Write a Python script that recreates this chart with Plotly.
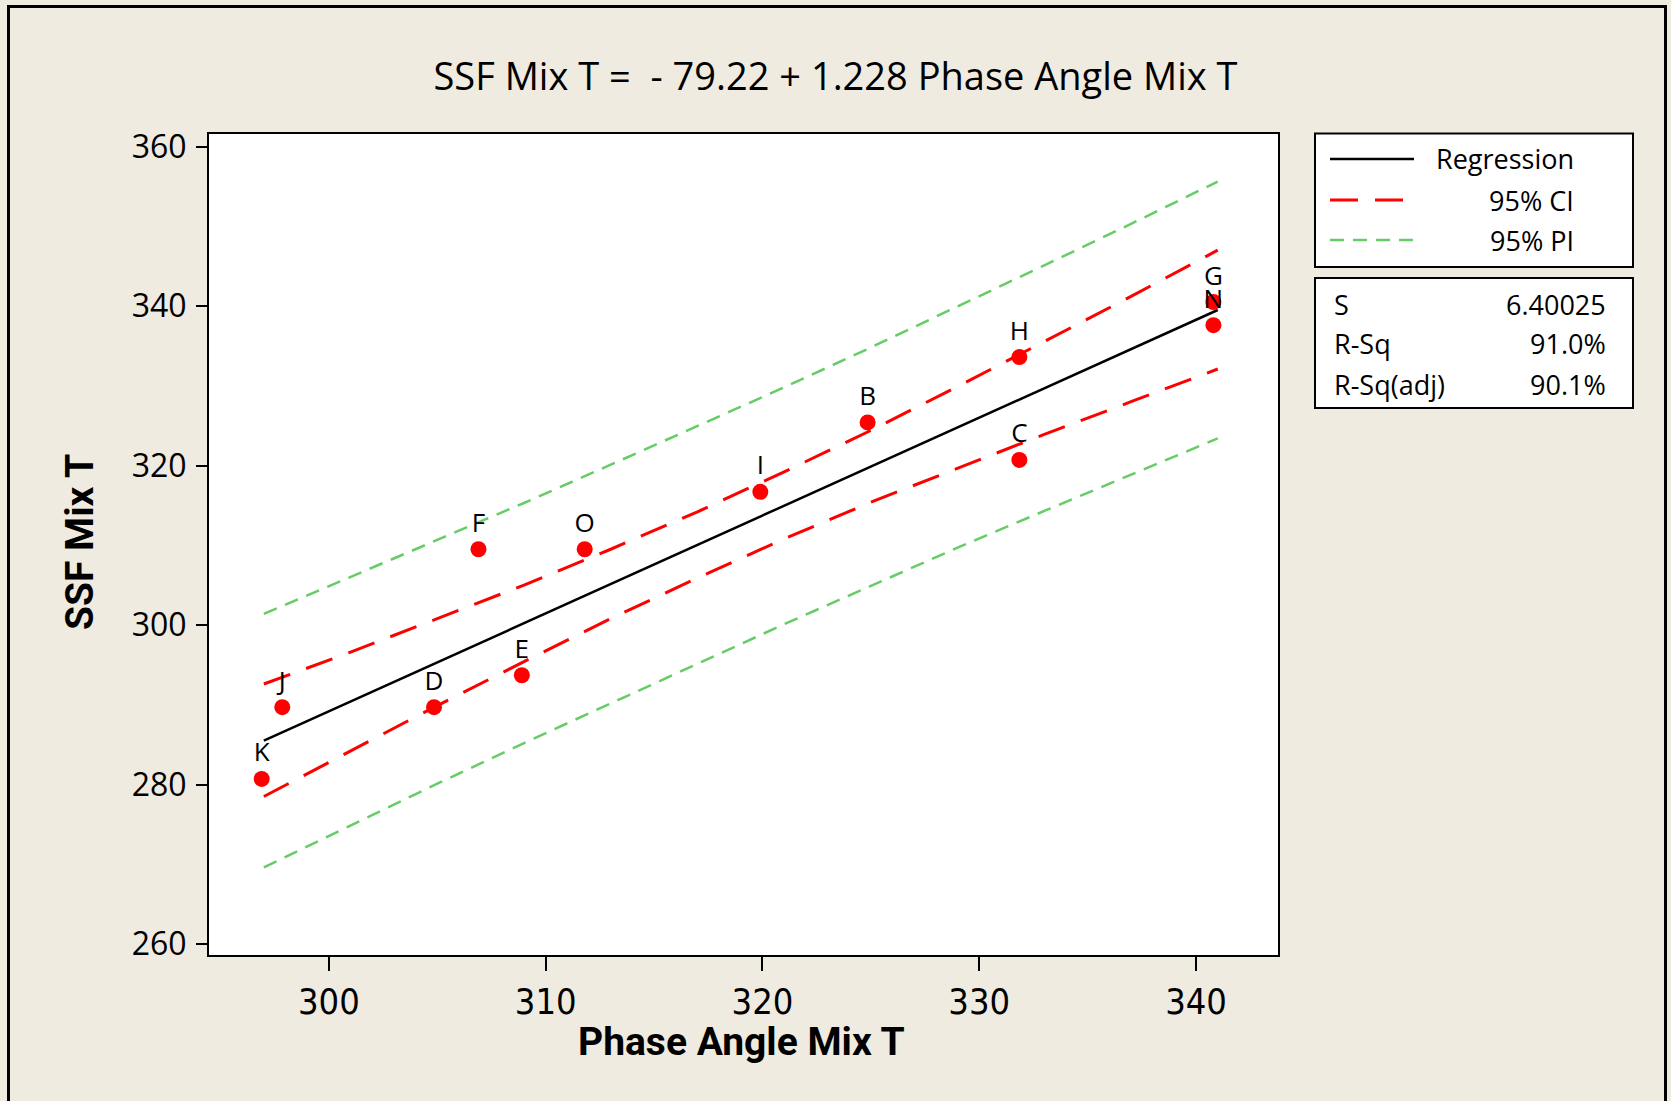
import plotly.graph_objects as go

# ---------------- data ----------------
point_labels = ["K", "J", "D", "F", "E", "O", "I", "B", "H", "C", "G", "N"]
phase_angle = [296.9, 297.85, 304.85, 306.9, 308.9, 311.8, 319.9, 324.85, 331.85, 331.85, 340.8, 340.8]
ssf = [280.7, 289.7, 289.7, 309.5, 293.7, 309.5, 316.7, 325.4, 333.6, 320.7, 340.5, 337.6]

band_x = [297, 301, 305, 309, 313, 317, 321, 325, 329, 333, 337, 341]
regression_y = [285.5, 290.4, 295.3, 300.2, 305.1, 310.1, 315.0, 319.9, 324.8, 329.7, 334.6, 339.5]
ci_upper = [292.6, 296.6, 300.8, 305.0, 309.5, 314.2, 319.2, 324.4, 329.9, 335.5, 341.2, 347.0]
ci_lower = [278.5, 284.2, 289.9, 295.4, 300.8, 305.9, 310.8, 315.4, 319.7, 323.9, 328.0, 332.1]
pi_upper = [301.4, 306.0, 310.6, 315.3, 320.1, 324.9, 329.8, 334.8, 339.9, 345.1, 350.3, 355.6]
pi_lower = [269.6, 274.9, 280.1, 285.2, 290.2, 295.2, 300.1, 304.9, 309.7, 314.3, 318.9, 323.4]

title_text = "SSF Mix T =  - 79.22 + 1.228 Phase Angle Mix T"
x_title = "Phase Angle Mix T"
y_title = "SSF Mix T"
legend_names = ["Regression", "95% CI", "95% PI"]
stat_names = ["S", "R-Sq", "R-Sq(adj)"]
stat_values = ["6.40025", "91.0%", "90.1%"]
x_ticks = [300, 310, 320, 330, 340]
y_ticks = [260, 280, 300, 320, 340, 360]

# ---------------- styling / layout ----------------
W_FIG, H_FIG = 1671, 1101
L, R, T, B = 209, 1278, 134, 955
PW, PH = R - L, B - T
BG = "#EFEBE0"
RED = "#FF0000"
GREEN = "#66CC66"
CI_DASH = "28px,17px"
PI_DASH = "14px,9px"
NARROW = "DejaVu Sans Condensed, Roboto, sans-serif"
MAIN = "Open Sans, sans-serif"


def px2x(px):
    return (px - L) / PW


def px2y(py):
    return 1 - (py - T) / PH


fig = go.Figure()

fig.add_trace(go.Scatter(x=band_x, y=pi_upper, mode="lines",
                         line=dict(color=GREEN, width=2.5, dash=PI_DASH), showlegend=False))
fig.add_trace(go.Scatter(x=band_x, y=pi_lower, mode="lines",
                         line=dict(color=GREEN, width=2.5, dash=PI_DASH), showlegend=False))
fig.add_trace(go.Scatter(x=band_x, y=ci_upper, mode="lines",
                         line=dict(color=RED, width=3, dash=CI_DASH), showlegend=False))
fig.add_trace(go.Scatter(x=band_x, y=ci_lower, mode="lines",
                         line=dict(color=RED, width=3, dash=CI_DASH), showlegend=False))
fig.add_trace(go.Scatter(x=[band_x[0], band_x[-1]], y=[regression_y[0], regression_y[-1]], mode="lines",
                         line=dict(color="black", width=2.5), showlegend=False))
fig.add_trace(go.Scatter(x=phase_angle, y=ssf, mode="markers+text", text=point_labels,
                         textposition="top center",
                         textfont=dict(family=MAIN, size=26, color="black"),
                         marker=dict(color=RED, size=16), showlegend=False, cliponaxis=False))

fig.update_layout(
    width=W_FIG, height=H_FIG,
    paper_bgcolor=BG, plot_bgcolor="white",
    margin=dict(l=L, r=W_FIG - R, t=T, b=H_FIG - B, pad=0),
    title=dict(text=title_text, x=0.5, xref="container", xanchor="center",
               y=1 - 77 / H_FIG, yref="container", yanchor="middle",
               font=dict(family=MAIN, size=38, color="black")),
    showlegend=False,
)
fig.update_xaxes(range=[294.47, 343.78], tickvals=x_ticks, ticks="outside", ticklen=14, tickwidth=2,
                 tickcolor="black", showline=True, linecolor="black", linewidth=2, mirror=True,
                 showgrid=False, zeroline=False, ticklabelstandoff=0,
                 tickfont=dict(family=NARROW, size=36, color="black"))
fig.update_yaxes(range=[258.62, 361.57], tickvals=y_ticks, ticks="outside", ticklen=11, tickwidth=2,
                 tickcolor="black", showline=True, linecolor="black", linewidth=2, mirror=True,
                 showgrid=False, zeroline=False, ticklabelstandoff=3,
                 tickfont=dict(family=MAIN, size=32, color="black"))

shapes = []
annotations = []
# outer frame
shapes.append(dict(type="rect", xref="paper", yref="paper", x0=px2x(8.5), x1=px2x(1665.5),
                   y0=px2y(1130), y1=px2y(6.5), line=dict(color="black", width=3)))
# axis titles
annotations.append(dict(text=f"<b>{x_title}</b>", xref="paper", yref="paper", x=px2x(741), y=px2y(1042),
                        xanchor="center", yanchor="middle", showarrow=False,
                        font=dict(family="Roboto, sans-serif", size=39, color="black")))
annotations.append(dict(text=f"<b>{y_title}</b>", xref="paper", yref="paper", x=px2x(80), y=px2y(542),
                        xanchor="center", yanchor="middle", showarrow=False, textangle=-90,
                        font=dict(family="Roboto, sans-serif", size=39, color="black")))
# legend box
shapes.append(dict(type="rect", xref="paper", yref="paper", x0=px2x(1315), x1=px2x(1633),
                   y0=px2y(267), y1=px2y(133.5), line=dict(color="black", width=2), fillcolor="white",
                   layer="below"))
legend_rows = [159, 200, 240]
legend_styles = [dict(color="black", width=2.5), dict(color=RED, width=3, dash=CI_DASH),
                 dict(color=GREEN, width=2.5, dash=PI_DASH)]
for name, ry, st in zip(legend_names, legend_rows, legend_styles):
    shapes.append(dict(type="line", xref="paper", yref="paper", x0=px2x(1330), x1=px2x(1414),
                       y0=px2y(ry), y1=px2y(ry), line=st))
    annotations.append(dict(text=name, xref="paper", yref="paper", x=px2x(1576), y=px2y(ry),
                            xanchor="right", yanchor="middle", showarrow=False,
                            font=dict(family=MAIN, size=27, color="black")))
# stats box
shapes.append(dict(type="rect", xref="paper", yref="paper", x0=px2x(1315), x1=px2x(1633),
                   y0=px2y(408), y1=px2y(278), line=dict(color="black", width=2), fillcolor="white",
                   layer="below"))
stat_rows = [304, 344, 384.5]
for nm, val, ry in zip(stat_names, stat_values, stat_rows):
    annotations.append(dict(text=nm, xref="paper", yref="paper", x=px2x(1332), y=px2y(ry),
                            xanchor="left", yanchor="middle", showarrow=False,
                            font=dict(family=MAIN, size=27, color="black")))
    annotations.append(dict(text=val, xref="paper", yref="paper", x=px2x(1608), y=px2y(ry),
                            xanchor="right", yanchor="middle", showarrow=False,
                            font=dict(family=MAIN, size=27, color="black")))

fig.update_layout(shapes=shapes, annotations=annotations)
fig.write_html("out.html")
